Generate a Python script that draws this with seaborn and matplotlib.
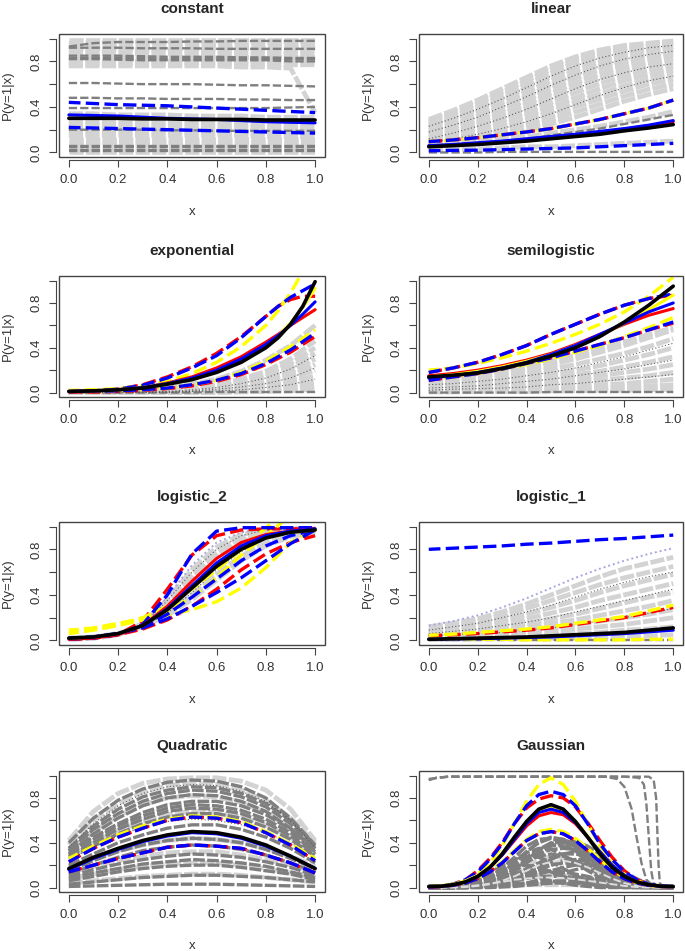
import seaborn as sns
import matplotlib.pyplot as plt
from matplotlib.patches import Rectangle

sns.set_style("white")
plt.rcParams["font.family"] = ["Liberation Sans", "DejaVu Sans"]

X11 = [0.0, 0.1, 0.2, 0.3, 0.4, 0.5, 0.6, 0.7, 0.8, 0.9, 1.0]
X13 = [0.0, 0.1, 0.2, 0.3, 0.4, 0.5, 0.6, 0.7, 0.8, 0.85, 0.9, 0.95, 1.0]
X21 = [0.0, 0.05, 0.1, 0.15, 0.2, 0.25, 0.3, 0.35, 0.4, 0.45, 0.5,
       0.55, 0.6, 0.65, 0.7, 0.75, 0.8, 0.85, 0.9, 0.95, 1.0]

#%% constant
CONST_LIGHT = [
    [0.985, 0.985, 0.985, 0.985, 0.985, 0.985, 0.985, 0.985, 0.985, 0.985, 0.985],
    [0.96, 0.96, 0.97, 0.97, 0.97, 0.97, 0.97, 0.97, 0.97, 0.97, 0.97],
    [0.94, 0.94, 0.94, 0.94, 0.94, 0.94, 0.94, 0.94, 0.94, 0.94, 0.94],
    [0.92, 0.92, 0.92, 0.92, 0.92, 0.92, 0.92, 0.92, 0.92, 0.92, 0.92],
    [0.90, 0.90, 0.90, 0.90, 0.90, 0.89, 0.89, 0.89, 0.89, 0.89, 0.89],
    [0.87, 0.87, 0.87, 0.87, 0.87, 0.87, 0.87, 0.86, 0.86, 0.86, 0.86],
    [0.84, 0.84, 0.84, 0.84, 0.84, 0.84, 0.84, 0.84, 0.84, 0.84, 0.84],
    [0.80, 0.80, 0.80, 0.80, 0.80, 0.80, 0.80, 0.80, 0.80, 0.80, 0.79],
    [0.78, 0.78, 0.78, 0.78, 0.78, 0.78, 0.78, 0.78, 0.77, 0.77, 0.77],
    [0.76, 0.76, 0.76, 0.76, 0.76, 0.76, 0.76, 0.75, 0.75, 0.74, 0.35],
    [0.34, 0.34, 0.33, 0.33, 0.33, 0.32, 0.32, 0.32, 0.31, 0.31, 0.31],
    [0.27, 0.27, 0.27, 0.26, 0.26, 0.26, 0.26, 0.25, 0.25, 0.25, 0.25],
    [0.24, 0.24, 0.24, 0.23, 0.23, 0.23, 0.23, 0.22, 0.22, 0.22, 0.22],
    [0.21, 0.21, 0.21, 0.21, 0.20, 0.20, 0.20, 0.20, 0.20, 0.20, 0.20],
    [0.18, 0.18, 0.18, 0.18, 0.18, 0.17, 0.17, 0.17, 0.17, 0.17, 0.17],
    [0.15, 0.15, 0.15, 0.15, 0.15, 0.15, 0.15, 0.15, 0.14, 0.14, 0.14],
    [0.12, 0.12, 0.12, 0.12, 0.12, 0.12, 0.12, 0.12, 0.12, 0.12, 0.12],
    [0.09, 0.09, 0.09, 0.09, 0.09, 0.09, 0.09, 0.09, 0.09, 0.09, 0.09],
    [0.07, 0.07, 0.07, 0.07, 0.07, 0.07, 0.07, 0.07, 0.07, 0.07, 0.07],
    [0.03, 0.03, 0.03, 0.03, 0.03, 0.03, 0.03, 0.03, 0.03, 0.03, 0.03],
    [0.0, 0.0, 0.0, 0.0, 0.0, 0.0, 0.0, 0.0, 0.0, 0.0, 0.0],
]
CONST_DARK = [
    [0.93, 0.96, 0.97, 0.97, 0.97, 0.975, 0.975, 0.98, 0.98, 0.98, 0.98],
    [0.92, 0.92, 0.92, 0.915, 0.915, 0.915, 0.91, 0.91, 0.91, 0.91, 0.91],
    [0.85, 0.85, 0.85, 0.845, 0.84, 0.84, 0.84, 0.835, 0.835, 0.83, 0.83],
    [0.83, 0.83, 0.83, 0.83, 0.82, 0.82, 0.82, 0.82, 0.82, 0.82, 0.82],
    [0.82, 0.82, 0.815, 0.81, 0.81, 0.81, 0.81, 0.81, 0.81, 0.80, 0.80],
    [0.61, 0.61, 0.605, 0.60, 0.60, 0.60, 0.595, 0.59, 0.59, 0.585, 0.58],
    [0.48, 0.48, 0.475, 0.475, 0.47, 0.47, 0.47, 0.465, 0.465, 0.46, 0.46],
    [0.39, 0.39, 0.39, 0.39, 0.39, 0.39, 0.39, 0.39, 0.39, 0.395, 0.40],
    [0.20, 0.20, 0.20, 0.20, 0.195, 0.195, 0.19, 0.19, 0.19, 0.19, 0.19],
    [0.06, 0.06, 0.06, 0.06, 0.06, 0.06, 0.06, 0.06, 0.06, 0.06, 0.06],
    [0.045, 0.045, 0.045, 0.045, 0.045, 0.045, 0.045, 0.045, 0.045, 0.045, 0.045],
    [0.025, 0.025, 0.025, 0.025, 0.025, 0.025, 0.025, 0.025, 0.025, 0.025, 0.025],
    [0.01, 0.01, 0.01, 0.01, 0.01, 0.01, 0.01, 0.01, 0.01, 0.01, 0.01],
]
CONST_BLUE_DASH = [
    [0.44, 0.43, 0.42, 0.415, 0.41, 0.40, 0.39, 0.38, 0.37, 0.36, 0.35],
    [0.22, 0.215, 0.21, 0.205, 0.20, 0.195, 0.19, 0.185, 0.18, 0.175, 0.17],
]
CONST_BLUE = [0.33, 0.325, 0.32, 0.31, 0.30, 0.295, 0.29, 0.28, 0.27, 0.265, 0.26]
CONST_BLACK = [0.30, 0.30, 0.30, 0.295, 0.295, 0.29, 0.29, 0.29, 0.285, 0.285, 0.285]

#%% linear
LIN_LIGHT = [
    [0.05, 0.08, 0.11, 0.15, 0.19, 0.25, 0.31, 0.38, 0.45, 0.51, 0.56],
    [0.06, 0.09, 0.125, 0.17, 0.22, 0.285, 0.355, 0.425, 0.495, 0.555, 0.60],
    [0.07, 0.10, 0.14, 0.19, 0.25, 0.32, 0.40, 0.47, 0.54, 0.60, 0.64],
    [0.085, 0.12, 0.165, 0.22, 0.285, 0.36, 0.44, 0.515, 0.585, 0.64, 0.68],
    [0.10, 0.14, 0.19, 0.25, 0.32, 0.40, 0.48, 0.56, 0.63, 0.68, 0.72],
    [0.115, 0.16, 0.215, 0.28, 0.355, 0.44, 0.525, 0.605, 0.67, 0.72, 0.755],
    [0.13, 0.18, 0.24, 0.31, 0.39, 0.48, 0.57, 0.65, 0.71, 0.76, 0.79],
    [0.15, 0.20, 0.265, 0.34, 0.425, 0.52, 0.61, 0.69, 0.75, 0.795, 0.825],
    [0.17, 0.22, 0.29, 0.37, 0.46, 0.56, 0.65, 0.73, 0.79, 0.83, 0.86],
    [0.19, 0.245, 0.32, 0.405, 0.495, 0.595, 0.685, 0.76, 0.82, 0.855, 0.885],
    [0.21, 0.27, 0.35, 0.44, 0.53, 0.63, 0.72, 0.79, 0.85, 0.88, 0.91],
    [0.23, 0.295, 0.375, 0.47, 0.565, 0.665, 0.755, 0.82, 0.875, 0.905, 0.93],
    [0.25, 0.32, 0.40, 0.50, 0.60, 0.70, 0.79, 0.85, 0.90, 0.93, 0.95],
    [0.27, 0.345, 0.43, 0.53, 0.63, 0.73, 0.815, 0.875, 0.92, 0.945, 0.965],
    [0.29, 0.37, 0.46, 0.56, 0.66, 0.76, 0.84, 0.90, 0.94, 0.96, 0.98],
    [0.07, 0.08, 0.10, 0.12, 0.14, 0.17, 0.20, 0.23, 0.27, 0.31, 0.36],
    [0.02, 0.03, 0.03, 0.04, 0.05, 0.05, 0.06, 0.07, 0.08, 0.09, 0.10],
]
LIN_DARK = [
    [0.0, 0.0, 0.0, 0.005, 0.005, 0.005, 0.005, 0.005, 0.005, 0.005, 0.005],
    [0.06, 0.07, 0.085, 0.10, 0.12, 0.15, 0.18, 0.21, 0.25, 0.29, 0.33],
]
LIN_DOTTED = [
    [0.12, 0.17, 0.23, 0.30, 0.38, 0.47, 0.56, 0.64, 0.70, 0.75, 0.78],
    [0.18, 0.24, 0.31, 0.40, 0.49, 0.59, 0.68, 0.76, 0.82, 0.86, 0.89],
    [0.09, 0.12, 0.16, 0.21, 0.27, 0.34, 0.42, 0.50, 0.57, 0.63, 0.67],
    [0.23, 0.30, 0.38, 0.47, 0.57, 0.67, 0.76, 0.83, 0.88, 0.92, 0.94],
]
LIN_DASH_HI = [0.095, 0.11, 0.13, 0.155, 0.18, 0.21, 0.25, 0.29, 0.34, 0.39, 0.46]
LIN_DASH_LO = [0.015, 0.018, 0.02, 0.025, 0.03, 0.035, 0.04, 0.05, 0.06, 0.07, 0.08]
LIN_RED = [0.055, 0.065, 0.08, 0.095, 0.115, 0.135, 0.155, 0.18, 0.205, 0.235, 0.27]
LIN_BLUE = [0.06, 0.07, 0.085, 0.10, 0.12, 0.14, 0.16, 0.185, 0.21, 0.24, 0.28]
LIN_BLACK = [0.05, 0.06, 0.07, 0.085, 0.10, 0.12, 0.14, 0.16, 0.19, 0.215, 0.245]

#%% exponential
EXP_LIGHT = [
    [0.01, 0.012, 0.015, 0.025, 0.045, 0.075, 0.12, 0.19, 0.29, 0.42, 0.60],
    [0.0, 0.0, 0.005, 0.01, 0.02, 0.04, 0.07, 0.12, 0.19, 0.30, 0.46],
    [0.0, 0.0, 0.005, 0.01, 0.02, 0.035, 0.06, 0.10, 0.16, 0.26, 0.40],
    [0.0, 0.0, 0.0, 0.01, 0.015, 0.03, 0.05, 0.085, 0.14, 0.22, 0.35],
    [0.0, 0.0, 0.0, 0.005, 0.01, 0.02, 0.04, 0.07, 0.11, 0.18, 0.30],
    [0.0, 0.0, 0.0, 0.005, 0.01, 0.02, 0.035, 0.06, 0.09, 0.15, 0.25],
    [0.0, 0.0, 0.0, 0.0, 0.005, 0.015, 0.025, 0.045, 0.07, 0.12, 0.20],
    [0.0, 0.0, 0.0, 0.0, 0.005, 0.01, 0.02, 0.03, 0.05, 0.09, 0.15],
    [0.0, 0.0, 0.0, 0.0, 0.0, 0.005, 0.01, 0.02, 0.035, 0.06, 0.10],
    [0.0, 0.0, 0.0, 0.0, 0.0, 0.0, 0.005, 0.01, 0.02, 0.035, 0.06],
    [0.0, 0.0, 0.0, 0.0, 0.0, 0.0, 0.0, 0.005, 0.01, 0.015, 0.03],
]
EXP_DOTTED = [
    [0.0, 0.0, 0.0, 0.005, 0.01, 0.025, 0.045, 0.08, 0.13, 0.21, 0.33],
    [0.0, 0.0, 0.0, 0.0, 0.005, 0.015, 0.03, 0.05, 0.08, 0.13, 0.22],
    [0.0, 0.0, 0.0, 0.0, 0.0, 0.01, 0.015, 0.025, 0.045, 0.07, 0.12],
]
EXP_DARK = [[0.0, 0.0, 0.0, 0.0, 0.0, 0.0, 0.005, 0.005, 0.005, 0.005, 0.005]]
# lower dashed curves on X11
EXP_RED_DASH_LO = [[0.005, 0.005, 0.01, 0.02, 0.035, 0.06, 0.10, 0.16, 0.25, 0.36, 0.50]]
EXP_YEL_DASH_LO = [[0.01, 0.012, 0.015, 0.025, 0.04, 0.07, 0.11, 0.18, 0.28, 0.41, 0.56]]
EXP_BLUE_DASH_LO = [[0.01, 0.012, 0.015, 0.025, 0.04, 0.07, 0.11, 0.17, 0.26, 0.38, 0.53]]
# upper curves on X13
EXP_RED_DASH_HI = [[0.01, 0.015, 0.03, 0.07, 0.14, 0.23, 0.35, 0.50, 0.68, 0.77, 0.83, 0.86, 0.86]]
EXP_YEL_DASH_HI = [[0.02, 0.025, 0.035, 0.06, 0.10, 0.17, 0.27, 0.41, 0.60, 0.73, 0.89, 1.08, 1.30]]
EXP_BLUE_DASH_HI = [[0.01, 0.015, 0.03, 0.065, 0.13, 0.22, 0.33, 0.49, 0.68, 0.77, 0.85, 0.91, 0.97]]
EXP_RED = [0.01, 0.015, 0.025, 0.045, 0.085, 0.14, 0.22, 0.32, 0.45, 0.52, 0.60, 0.67, 0.74]
EXP_YEL = [0.01, 0.015, 0.025, 0.045, 0.08, 0.125, 0.19, 0.29, 0.42, 0.51, 0.62, 0.76, 0.93]
EXP_BLUE = [0.01, 0.015, 0.025, 0.045, 0.08, 0.13, 0.20, 0.30, 0.43, 0.51, 0.60, 0.70, 0.81]
EXP_BLACK = [0.01, 0.015, 0.025, 0.04, 0.075, 0.115, 0.18, 0.27, 0.40, 0.49, 0.61, 0.77, 0.99]

#%% semilogistic
SEMI_LIGHT = [
    [0.10, 0.12, 0.14, 0.17, 0.21, 0.25, 0.30, 0.36, 0.42, 0.49, 0.56],
    [0.08, 0.10, 0.12, 0.14, 0.17, 0.21, 0.25, 0.30, 0.35, 0.41, 0.48],
    [0.06, 0.08, 0.09, 0.11, 0.14, 0.17, 0.20, 0.24, 0.29, 0.34, 0.40],
    [0.05, 0.06, 0.07, 0.09, 0.11, 0.13, 0.16, 0.19, 0.23, 0.27, 0.32],
    [0.04, 0.05, 0.06, 0.07, 0.08, 0.10, 0.12, 0.15, 0.18, 0.21, 0.25],
    [0.03, 0.035, 0.04, 0.05, 0.06, 0.07, 0.09, 0.11, 0.13, 0.15, 0.18],
    [0.02, 0.025, 0.03, 0.035, 0.04, 0.05, 0.06, 0.07, 0.08, 0.10, 0.12],
    [0.01, 0.015, 0.02, 0.02, 0.025, 0.03, 0.035, 0.04, 0.05, 0.06, 0.07],
    [0.005, 0.005, 0.01, 0.01, 0.01, 0.015, 0.015, 0.02, 0.02, 0.025, 0.03],
    [0.11, 0.13, 0.16, 0.19, 0.23, 0.28, 0.33, 0.39, 0.45, 0.52, 0.58],
]
SEMI_DOTTED = [
    [0.07, 0.08, 0.10, 0.12, 0.15, 0.18, 0.22, 0.27, 0.32, 0.38, 0.44],
    [0.04, 0.05, 0.06, 0.08, 0.10, 0.12, 0.15, 0.18, 0.21, 0.25, 0.29],
    [0.02, 0.03, 0.035, 0.04, 0.05, 0.07, 0.08, 0.10, 0.12, 0.14, 0.16],
]
SEMI_DARK = [[0.0, 0.0, 0.0, 0.0, 0.0, 0.005, 0.005, 0.005, 0.005, 0.005, 0.005]]
SEMI_RED_DASH = [
    [0.18, 0.22, 0.27, 0.34, 0.42, 0.52, 0.61, 0.70, 0.78, 0.84, 0.87],
    [0.11, 0.14, 0.17, 0.21, 0.26, 0.31, 0.37, 0.43, 0.49, 0.56, 0.62],
]
SEMI_YEL_DASH = [
    [0.20, 0.22, 0.26, 0.31, 0.37, 0.44, 0.52, 0.61, 0.72, 0.86, 1.03],
    [0.12, 0.14, 0.17, 0.21, 0.25, 0.30, 0.36, 0.42, 0.50, 0.58, 0.67],
]
SEMI_BLUE_DASH = [
    [0.18, 0.22, 0.27, 0.34, 0.42, 0.52, 0.61, 0.70, 0.78, 0.84, 0.88],
    [0.11, 0.14, 0.17, 0.21, 0.26, 0.31, 0.37, 0.43, 0.49, 0.56, 0.63],
]
SEMI_RED = [0.15, 0.17, 0.20, 0.24, 0.29, 0.35, 0.43, 0.52, 0.61, 0.69, 0.75]
SEMI_YEL = [0.14, 0.16, 0.19, 0.23, 0.28, 0.34, 0.42, 0.51, 0.62, 0.74, 0.87]
SEMI_BLUE = [0.13, 0.15, 0.18, 0.22, 0.27, 0.34, 0.42, 0.52, 0.62, 0.72, 0.80]
SEMI_BLACK = [0.14, 0.155, 0.175, 0.215, 0.265, 0.325, 0.40, 0.50, 0.63, 0.78, 0.95]

#%% logistic_2
LOG2_LIGHT = [
    [0.01, 0.02, 0.05, 0.15, 0.36, 0.62, 0.82, 0.93, 0.97, 0.98, 0.98],
    [0.01, 0.02, 0.05, 0.14, 0.33, 0.57, 0.77, 0.90, 0.96, 0.98, 0.98],
    [0.01, 0.02, 0.05, 0.14, 0.31, 0.53, 0.73, 0.87, 0.94, 0.97, 0.98],
    [0.02, 0.03, 0.06, 0.12, 0.24, 0.40, 0.58, 0.74, 0.86, 0.93, 0.96],
    [0.02, 0.03, 0.06, 0.12, 0.22, 0.36, 0.53, 0.70, 0.83, 0.91, 0.95],
]
LOG2_DOTTED = [
    [0.01, 0.02, 0.05, 0.14, 0.35, 0.60, 0.80, 0.92, 0.97, 0.98, 0.98],
    [0.02, 0.03, 0.06, 0.12, 0.24, 0.42, 0.62, 0.78, 0.89, 0.95, 0.97],
]
LOG2_LAVENDER = [[0.01, 0.02, 0.05, 0.15, 0.38, 0.66, 0.86, 0.95, 0.98, 0.99, 0.99]]
LOG2_RED_DASH = [
    [0.01, 0.02, 0.05, 0.17, 0.45, 0.75, 0.92, 0.97, 0.98, 0.98, 0.98],
    [0.01, 0.02, 0.05, 0.10, 0.18, 0.30, 0.45, 0.62, 0.76, 0.86, 0.92],
]
LOG2_YEL_DASH = [
    [0.09, 0.11, 0.15, 0.19, 0.22, 0.27, 0.34, 0.46, 0.64, 0.86, 0.97],
    [0.07, 0.10, 0.14, 0.20, 0.30, 0.45, 0.62, 0.80, 0.99, 1.15, 1.25],
    [0.06, 0.09, 0.13, 0.18, 0.26, 0.38, 0.55, 0.75, 0.92, 1.10, 1.20],
]
LOG2_BLUE_DASH = [
    [0.01, 0.02, 0.05, 0.14, 0.40, 0.76, 0.96, 0.99, 0.99, 0.99, 0.99],
    [0.02, 0.03, 0.06, 0.11, 0.19, 0.30, 0.42, 0.55, 0.70, 0.85, 0.97],
    [0.02, 0.03, 0.06, 0.12, 0.23, 0.38, 0.54, 0.70, 0.83, 0.92, 0.97],
]
LOG2_RED = [0.01, 0.02, 0.05, 0.13, 0.30, 0.52, 0.72, 0.86, 0.93, 0.96, 0.98]
LOG2_YEL = [0.02, 0.03, 0.06, 0.13, 0.27, 0.46, 0.66, 0.81, 0.90, 0.95, 0.97]
LOG2_BLUE = [0.02, 0.03, 0.06, 0.13, 0.28, 0.48, 0.68, 0.83, 0.92, 0.96, 0.98]
LOG2_BLACK = [0.02, 0.03, 0.06, 0.13, 0.27, 0.46, 0.65, 0.80, 0.90, 0.95, 0.97]

#%% logistic_1
LOG1_LIGHT = [
    [0.12, 0.15, 0.19, 0.25, 0.32, 0.40, 0.48, 0.56, 0.63, 0.68, 0.73],
    [0.10, 0.13, 0.17, 0.22, 0.28, 0.35, 0.42, 0.49, 0.55, 0.60, 0.65],
    [0.08, 0.11, 0.14, 0.18, 0.23, 0.29, 0.35, 0.42, 0.48, 0.53, 0.58],
    [0.07, 0.09, 0.12, 0.15, 0.19, 0.24, 0.29, 0.35, 0.40, 0.45, 0.50],
    [0.06, 0.07, 0.09, 0.12, 0.15, 0.19, 0.23, 0.28, 0.33, 0.38, 0.42],
    [0.05, 0.06, 0.07, 0.09, 0.12, 0.15, 0.18, 0.22, 0.26, 0.30, 0.35],
    [0.04, 0.05, 0.06, 0.07, 0.09, 0.11, 0.14, 0.17, 0.20, 0.23, 0.27],
    [0.03, 0.035, 0.04, 0.05, 0.06, 0.08, 0.10, 0.12, 0.14, 0.17, 0.20],
    [0.02, 0.025, 0.03, 0.035, 0.04, 0.05, 0.06, 0.07, 0.09, 0.10, 0.12],
    [0.01, 0.01, 0.015, 0.015, 0.02, 0.02, 0.025, 0.03, 0.035, 0.04, 0.05],
]
LOG1_DOTTED = [
    [0.09, 0.12, 0.15, 0.20, 0.25, 0.31, 0.38, 0.45, 0.51, 0.56, 0.60],
    [0.06, 0.08, 0.10, 0.13, 0.16, 0.20, 0.25, 0.30, 0.35, 0.40, 0.45],
    [0.04, 0.05, 0.06, 0.07, 0.09, 0.11, 0.14, 0.17, 0.20, 0.24, 0.28],
]
LOG1_LAVENDER = [[0.13, 0.17, 0.22, 0.29, 0.37, 0.46, 0.55, 0.63, 0.70, 0.76, 0.81]]
LOG1_DARK = [[0.005, 0.005, 0.005, 0.005, 0.005, 0.005, 0.005, 0.005, 0.005, 0.005, 0.005]]
LOG1_RED_DASH = [[0.04, 0.05, 0.06, 0.075, 0.09, 0.11, 0.14, 0.17, 0.20, 0.245, 0.29]]
LOG1_YEL_DASH = [
    [0.045, 0.055, 0.07, 0.085, 0.10, 0.12, 0.15, 0.18, 0.21, 0.26, 0.31],
    [0.01, 0.01, 0.01, 0.01, 0.005, 0.005, 0.005, 0.005, 0.005, 0.01, 0.01],
]
LOG1_BLUE_DASH = [[0.80, 0.81, 0.82, 0.83, 0.845, 0.855, 0.87, 0.885, 0.895, 0.91, 0.925]]
LOG1_BLUE = [0.01, 0.012, 0.015, 0.02, 0.025, 0.03, 0.04, 0.05, 0.06, 0.075, 0.09]
LOG1_BLACK = [0.01, 0.015, 0.02, 0.025, 0.03, 0.04, 0.05, 0.06, 0.07, 0.09, 0.11]

#%% Quadratic
QUAD_LIGHT = [
    [0.42, 0.68, 0.84, 0.93, 0.97, 0.98, 0.98, 0.95, 0.87, 0.70, 0.42],
    [0.38, 0.60, 0.75, 0.85, 0.91, 0.93, 0.92, 0.87, 0.78, 0.62, 0.40],
    [0.33, 0.50, 0.64, 0.74, 0.80, 0.82, 0.81, 0.76, 0.67, 0.53, 0.34],
    [0.27, 0.40, 0.51, 0.59, 0.65, 0.68, 0.67, 0.63, 0.56, 0.45, 0.29],
    [0.18, 0.26, 0.33, 0.38, 0.42, 0.44, 0.43, 0.40, 0.35, 0.28, 0.19],
    [0.13, 0.19, 0.24, 0.28, 0.31, 0.32, 0.32, 0.29, 0.25, 0.20, 0.14],
    [0.08, 0.12, 0.16, 0.19, 0.21, 0.22, 0.22, 0.20, 0.17, 0.13, 0.09],
    [0.04, 0.06, 0.08, 0.10, 0.11, 0.12, 0.12, 0.11, 0.09, 0.07, 0.05],
]
QUAD_DARK = [
    [0.40, 0.62, 0.78, 0.88, 0.94, 0.96, 0.95, 0.90, 0.80, 0.62, 0.38],
    [0.35, 0.55, 0.70, 0.81, 0.87, 0.90, 0.89, 0.84, 0.75, 0.60, 0.38],
    [0.33, 0.52, 0.66, 0.77, 0.84, 0.87, 0.86, 0.81, 0.72, 0.57, 0.35],
    [0.30, 0.48, 0.62, 0.73, 0.80, 0.83, 0.82, 0.77, 0.68, 0.53, 0.33],
    [0.32, 0.45, 0.57, 0.67, 0.74, 0.77, 0.77, 0.73, 0.65, 0.52, 0.36],
    [0.30, 0.43, 0.55, 0.64, 0.71, 0.74, 0.73, 0.69, 0.61, 0.49, 0.32],
    [0.28, 0.40, 0.52, 0.61, 0.68, 0.71, 0.70, 0.66, 0.58, 0.46, 0.30],
    [0.26, 0.37, 0.48, 0.57, 0.63, 0.66, 0.66, 0.62, 0.54, 0.43, 0.28],
    [0.20, 0.30, 0.40, 0.47, 0.53, 0.56, 0.56, 0.52, 0.45, 0.35, 0.22],
    [0.15, 0.24, 0.32, 0.38, 0.42, 0.44, 0.43, 0.40, 0.34, 0.26, 0.17],
    [0.12, 0.20, 0.27, 0.33, 0.36, 0.38, 0.37, 0.34, 0.29, 0.22, 0.14],
    [0.10, 0.16, 0.21, 0.25, 0.28, 0.30, 0.29, 0.27, 0.23, 0.18, 0.11],
    [0.08, 0.13, 0.17, 0.21, 0.23, 0.25, 0.24, 0.22, 0.19, 0.14, 0.09],
    [0.06, 0.10, 0.14, 0.17, 0.19, 0.20, 0.20, 0.18, 0.15, 0.12, 0.07],
    [0.03, 0.05, 0.07, 0.09, 0.10, 0.11, 0.11, 0.10, 0.09, 0.07, 0.05],
    [0.01, 0.015, 0.02, 0.025, 0.03, 0.03, 0.03, 0.025, 0.02, 0.015, 0.01],
]
QUAD_DOTTED = [
    [0.36, 0.57, 0.73, 0.84, 0.90, 0.92, 0.91, 0.86, 0.77, 0.60, 0.36],
    [0.25, 0.36, 0.46, 0.54, 0.59, 0.61, 0.60, 0.56, 0.49, 0.40, 0.27],
]
QUAD_RED_DASH = [
    [0.23, 0.35, 0.45, 0.53, 0.60, 0.63, 0.62, 0.58, 0.49, 0.38, 0.24],
    [0.14, 0.20, 0.26, 0.31, 0.36, 0.38, 0.37, 0.35, 0.29, 0.22, 0.13],
]
QUAD_YEL_DASH = [[0.26, 0.37, 0.47, 0.55, 0.61, 0.64, 0.63, 0.59, 0.50, 0.39, 0.26]]
QUAD_BLUE_DASH = [
    [0.23, 0.35, 0.45, 0.53, 0.60, 0.63, 0.62, 0.58, 0.49, 0.38, 0.24],
    [0.14, 0.20, 0.26, 0.31, 0.36, 0.38, 0.37, 0.35, 0.29, 0.22, 0.13],
]
QUAD_BLUE = [0.16, 0.26, 0.34, 0.41, 0.46, 0.49, 0.48, 0.44, 0.37, 0.28, 0.17]
QUAD_BLACK = [0.17, 0.27, 0.35, 0.42, 0.47, 0.50, 0.49, 0.45, 0.38, 0.28, 0.17]

#%% Gaussian
GAUSS_LIGHT = [
    [0, 0, 0.005, 0.01, 0.02, 0.04, 0.08, 0.13, 0.19, 0.25, 0.28, 0.27, 0.23, 0.17, 0.11, 0.06, 0.03, 0.015, 0.005, 0, 0],
    [0, 0, 0, 0.005, 0.01, 0.02, 0.04, 0.06, 0.09, 0.11, 0.12, 0.11, 0.09, 0.06, 0.04, 0.02, 0.01, 0.005, 0, 0, 0],
    [0.01, 0.01, 0.015, 0.015, 0.02, 0.02, 0.02, 0.025, 0.025, 0.025, 0.025, 0.025, 0.025, 0.025, 0.02, 0.02, 0.02, 0.015, 0.015, 0.01, 0.01],
]
GAUSS_DARK = [
    [0, 0, 0, 0.005, 0.02, 0.06, 0.13, 0.22, 0.32, 0.40, 0.44, 0.43, 0.39, 0.33, 0.26, 0.18, 0.10, 0.04, 0.01, 0, 0],
    [0, 0, 0, 0.005, 0.015, 0.04, 0.09, 0.16, 0.25, 0.33, 0.39, 0.42, 0.41, 0.37, 0.30, 0.22, 0.13, 0.06, 0.02, 0.005, 0],
    [0, 0, 0.005, 0.01, 0.02, 0.05, 0.10, 0.17, 0.24, 0.30, 0.34, 0.35, 0.34, 0.30, 0.25, 0.19, 0.12, 0.06, 0.02, 0.005, 0],
    [0, 0, 0, 0.005, 0.01, 0.03, 0.06, 0.11, 0.17, 0.22, 0.27, 0.30, 0.30, 0.28, 0.24, 0.19, 0.13, 0.07, 0.03, 0.005, 0],
    [0, 0, 0, 0.005, 0.01, 0.03, 0.05, 0.09, 0.13, 0.17, 0.21, 0.24, 0.25, 0.25, 0.23, 0.19, 0.14, 0.08, 0.03, 0.01, 0],
    [0, 0, 0, 0, 0.005, 0.015, 0.03, 0.06, 0.09, 0.12, 0.15, 0.18, 0.20, 0.21, 0.20, 0.17, 0.12, 0.07, 0.03, 0.005, 0],
    [0, 0, 0.005, 0.01, 0.03, 0.07, 0.13, 0.22, 0.32, 0.41, 0.45, 0.43, 0.36, 0.27, 0.18, 0.10, 0.05, 0.02, 0.01, 0.005, 0],
    [0, 0, 0.005, 0.015, 0.04, 0.09, 0.17, 0.27, 0.37, 0.43, 0.44, 0.40, 0.32, 0.23, 0.15, 0.08, 0.04, 0.015, 0.005, 0, 0],
    [0, 0, 0, 0.005, 0.015, 0.04, 0.08, 0.14, 0.22, 0.30, 0.37, 0.40, 0.38, 0.31, 0.22, 0.14, 0.07, 0.03, 0.01, 0.005, 0],
    [0, 0.005, 0.01, 0.02, 0.04, 0.07, 0.12, 0.19, 0.27, 0.34, 0.38, 0.37, 0.33, 0.27, 0.20, 0.13, 0.08, 0.04, 0.02, 0.01, 0],
    [0, 0, 0.01, 0.02, 0.05, 0.10, 0.17, 0.25, 0.31, 0.35, 0.34, 0.29, 0.22, 0.15, 0.09, 0.05, 0.02, 0.01, 0.005, 0, 0],
    [0, 0, 0, 0.005, 0.01, 0.02, 0.04, 0.08, 0.13, 0.19, 0.25, 0.30, 0.32, 0.30, 0.25, 0.18, 0.11, 0.05, 0.02, 0.005, 0],
    [0, 0, 0.005, 0.015, 0.03, 0.06, 0.11, 0.17, 0.23, 0.28, 0.30, 0.28, 0.24, 0.18, 0.12, 0.07, 0.04, 0.02, 0.01, 0, 0],
    [0, 0.005, 0.01, 0.03, 0.07, 0.13, 0.20, 0.25, 0.28, 0.27, 0.23, 0.17, 0.11, 0.06, 0.03, 0.01, 0.005, 0, 0, 0, 0],
    [0, 0, 0, 0, 0.005, 0.015, 0.03, 0.06, 0.10, 0.15, 0.20, 0.24, 0.25, 0.23, 0.18, 0.12, 0.07, 0.03, 0.01, 0.005, 0],
    [0, 0, 0, 0.005, 0.01, 0.03, 0.05, 0.09, 0.13, 0.17, 0.20, 0.22, 0.21, 0.18, 0.14, 0.09, 0.05, 0.02, 0.01, 0, 0],
    [0, 0.005, 0.01, 0.03, 0.06, 0.10, 0.15, 0.19, 0.20, 0.18, 0.14, 0.10, 0.06, 0.03, 0.015, 0.005, 0, 0, 0, 0, 0],
    [0, 0, 0, 0, 0, 0.005, 0.01, 0.02, 0.04, 0.07, 0.10, 0.13, 0.16, 0.18, 0.17, 0.14, 0.09, 0.05, 0.02, 0.005, 0],
    [0, 0.005, 0.01, 0.02, 0.03, 0.05, 0.07, 0.10, 0.12, 0.14, 0.15, 0.14, 0.12, 0.10, 0.07, 0.05, 0.03, 0.02, 0.01, 0.005, 0],
    [0, 0.005, 0.015, 0.03, 0.06, 0.09, 0.11, 0.12, 0.11, 0.09, 0.06, 0.04, 0.02, 0.01, 0, 0, 0, 0, 0, 0, 0],
    [0, 0, 0, 0.005, 0.01, 0.02, 0.04, 0.06, 0.08, 0.10, 0.10, 0.10, 0.09, 0.07, 0.05, 0.03, 0.02, 0.01, 0.005, 0, 0],
    [0, 0, 0, 0, 0, 0, 0.005, 0.01, 0.02, 0.03, 0.04, 0.055, 0.065, 0.075, 0.08, 0.075, 0.06, 0.04, 0.02, 0.005, 0],
    [0, 0, 0, 0, 0.005, 0.01, 0.02, 0.03, 0.04, 0.05, 0.06, 0.06, 0.05, 0.04, 0.03, 0.02, 0.01, 0.005, 0, 0, 0],
    [0, 0.005, 0.01, 0.015, 0.02, 0.025, 0.03, 0.035, 0.04, 0.04, 0.04, 0.04, 0.04, 0.035, 0.03, 0.025, 0.02, 0.015, 0.01, 0.005, 0],
    [0, 0, 0, 0, 0.01, 0.03, 0.07, 0.14, 0.24, 0.34, 0.40, 0.41, 0.37, 0.29, 0.20, 0.12, 0.06, 0.02, 0.01, 0, 0],
]
GAUSS_LIGHT_TOP = [
    [0, 0, 0, 0.005, 0.015, 0.03, 0.06, 0.10, 0.15, 0.20, 0.23, 0.24, 0.22, 0.18, 0.13, 0.08, 0.04, 0.015, 0.005, 0, 0],
    [0, 0, 0.005, 0.01, 0.02, 0.035, 0.05, 0.07, 0.08, 0.09, 0.09, 0.085, 0.075, 0.06, 0.045, 0.03, 0.015, 0.005, 0, 0, 0],
]
STEP1_X = [0.0, 0.03, 0.08, 0.2, 0.4, 0.6, 0.72, 0.77, 0.80, 0.83, 0.85, 0.87, 0.89, 0.92, 0.96, 1.0]
STEP1_Y = [0.96, 0.98, 0.99, 0.99, 0.99, 0.99, 0.99, 0.97, 0.90, 0.70, 0.45, 0.22, 0.07, 0.01, 0.005, 0.005]
STEP2_X = [0.0, 0.03, 0.08, 0.2, 0.4, 0.6, 0.8, 0.86, 0.88, 0.89, 0.90, 0.91, 0.92, 0.95, 1.0]
STEP2_Y = [0.96, 0.98, 0.99, 0.99, 0.99, 0.99, 0.99, 0.98, 0.92, 0.75, 0.45, 0.15, 0.03, 0.005, 0.005]
STEP3_X = [0.0, 0.08, 0.3, 0.6, 0.9, 0.92, 0.93, 0.935, 0.94, 0.945, 0.96, 1.0]
STEP3_Y = [0.97, 0.99, 0.99, 0.99, 0.99, 0.96, 0.80, 0.50, 0.20, 0.04, 0.005, 0.005]
GAUSS_RED_DASH = [
    [0.005, 0.01, 0.03, 0.07, 0.15, 0.26, 0.40, 0.57, 0.71, 0.79, 0.82, 0.80, 0.72, 0.58, 0.42, 0.27, 0.15, 0.07, 0.03, 0.01, 0.005],
    [0.005, 0.01, 0.02, 0.04, 0.08, 0.14, 0.22, 0.32, 0.42, 0.48, 0.50, 0.48, 0.42, 0.33, 0.23, 0.14, 0.08, 0.04, 0.02, 0.01, 0.005],
]
GAUSS_YEL_DASH = [
    [0.01, 0.015, 0.03, 0.06, 0.12, 0.22, 0.37, 0.57, 0.77, 0.92, 0.98, 0.92, 0.77, 0.57, 0.37, 0.22, 0.12, 0.06, 0.03, 0.015, 0.01],
    [0.005, 0.01, 0.02, 0.045, 0.085, 0.15, 0.23, 0.33, 0.43, 0.50, 0.52, 0.50, 0.44, 0.35, 0.25, 0.16, 0.09, 0.045, 0.02, 0.01, 0.005],
]
GAUSS_BLUE_DASH = [
    [0.01, 0.015, 0.03, 0.07, 0.14, 0.25, 0.39, 0.57, 0.73, 0.83, 0.86, 0.83, 0.73, 0.57, 0.39, 0.25, 0.14, 0.07, 0.03, 0.015, 0.01],
    [0.005, 0.01, 0.02, 0.04, 0.08, 0.14, 0.22, 0.32, 0.42, 0.48, 0.50, 0.48, 0.42, 0.33, 0.23, 0.14, 0.08, 0.04, 0.02, 0.01, 0.005],
]
GAUSS_RED = [0.005, 0.01, 0.025, 0.05, 0.10, 0.18, 0.29, 0.42, 0.55, 0.64, 0.67, 0.65, 0.57, 0.45, 0.32, 0.20, 0.11, 0.05, 0.025, 0.01, 0.005]
GAUSS_YEL = [0.01, 0.015, 0.03, 0.06, 0.11, 0.19, 0.30, 0.44, 0.58, 0.68, 0.72, 0.69, 0.59, 0.46, 0.32, 0.20, 0.11, 0.05, 0.025, 0.01, 0.005]
GAUSS_BLUE = [0.005, 0.01, 0.025, 0.05, 0.10, 0.18, 0.29, 0.43, 0.57, 0.67, 0.70, 0.67, 0.58, 0.45, 0.32, 0.20, 0.11, 0.05, 0.025, 0.01, 0.005]
GAUSS_BLACK = [0.01, 0.012, 0.025, 0.05, 0.10, 0.18, 0.30, 0.45, 0.59, 0.70, 0.74, 0.70, 0.59, 0.45, 0.30, 0.18, 0.10, 0.05, 0.025, 0.012, 0.01]

#%% styles
LIGHT = dict(color="#d3d3d3", linewidth=3.4, linestyle=(0, (3.0, 0.5)))
LIGHT_THIN = dict(color="#dcdcdc", linewidth=1.4, linestyle=(0, (4, 1.5)))
DARK = dict(color="#7f7f7f", linewidth=1.7, linestyle=(0, (3.5, 1.3)))
DARK_THICK = dict(color="#7f7f7f", linewidth=2.4, linestyle=(0, (3.5, 0.7)))
DOTTED = dict(color="#5c5c5c", linewidth=0.8, linestyle=(0, (1, 2)))
LAVENDER = dict(color="#a8a8e0", linewidth=1.4, linestyle=(0, (1, 1.5)))
RED_D = dict(color="red", linewidth=2.4, linestyle=(0, (4, 1.6)))
YEL_D = dict(color="yellow", linewidth=2.4, linestyle=(1, (4, 1.6)))
BLUE_D = dict(color="blue", linewidth=2.4, linestyle=(0.5, (4, 1.6)))
RED_S = dict(color="red", linewidth=2.2, linestyle="-")
YEL_S = dict(color="yellow", linewidth=2.2, linestyle="-")
BLUE_S = dict(color="blue", linewidth=2.2, linestyle="-")
BLACK = dict(color="black", linewidth=2.6, linestyle="-")


def draw(ax, x, curves, style):
    for y in curves:
        sns.lineplot(x=x, y=y, ax=ax, estimator=None, sort=False, **style)


def style_axes(ax, title):
    ax.set_xlim(-0.04, 1.04)
    ax.set_ylim(-0.04, 1.04)
    for s in ax.spines.values():
        s.set_visible(False)
    for side in ("left", "bottom"):
        sp = ax.spines[side]
        sp.set_visible(True)
        sp.set_position(("outward", 2))
        sp.set_bounds(0, 1)
        sp.set_color("#444444")
        sp.set_linewidth(0.8)
    ax.add_patch(Rectangle((0, 0), 1, 1, transform=ax.transAxes, fill=False,
                           lw=1.0, ec="#444444", clip_on=False, zorder=10))
    ax.set_xticks([0, 0.2, 0.4, 0.6, 0.8, 1.0])
    ax.set_xticklabels(["0.0", "0.2", "0.4", "0.6", "0.8", "1.0"])
    ax.set_yticks([0, 0.2, 0.4, 0.6, 0.8, 1.0])
    ax.set_yticklabels(["0.0", "", "0.4", "", "0.8", ""], rotation=90, va="center")
    ax.tick_params(direction="out", length=5, width=0.8, color="#444444",
                   labelsize=9.5, labelcolor="#333333", pad=5, left=True, bottom=True)
    ax.set_title(title, fontsize=11, fontweight="bold", pad=15)
    ax.set_xlabel("x", fontsize=9.5, color="#333333")
    ax.set_ylabel("P(y=1|x)", fontsize=9.5, color="#333333")
    ax.xaxis.set_label_coords(0.5, -0.40)
    ax.yaxis.set_label_coords(-0.17, 0.5)


PANELS = [
    ("constant", [(X11, CONST_LIGHT, LIGHT), (X11, CONST_DARK, DARK),
                  (X11, CONST_BLUE_DASH, BLUE_D), (X11, [CONST_BLUE], BLUE_S),
                  (X11, [CONST_BLACK], BLACK)]),
    ("linear", [(X11, LIN_LIGHT, LIGHT), (X11, LIN_DARK, DARK), (X11, LIN_DOTTED, DOTTED),
                (X11, [LIN_DASH_HI], RED_D), (X11, [LIN_DASH_HI], YEL_D),
                (X11, [LIN_DASH_HI, LIN_DASH_LO], BLUE_D),
                (X11, [LIN_RED], RED_S), (X11, [LIN_BLUE], BLUE_S), (X11, [LIN_BLACK], BLACK)]),
    ("exponential", [(X11, EXP_LIGHT, LIGHT), (X11, EXP_DARK, DARK), (X11, EXP_DOTTED, DOTTED),
                     (X11, EXP_RED_DASH_LO, RED_D), (X11, EXP_YEL_DASH_LO, YEL_D),
                     (X11, EXP_BLUE_DASH_LO, BLUE_D),
                     (X13, EXP_RED_DASH_HI, RED_D), (X13, EXP_YEL_DASH_HI, YEL_D),
                     (X13, EXP_BLUE_DASH_HI, BLUE_D), (X13, [EXP_RED], RED_S),
                     (X13, [EXP_YEL], YEL_S), (X13, [EXP_BLUE], BLUE_S), (X13, [EXP_BLACK], BLACK)]),
    ("semilogistic", [(X11, SEMI_LIGHT, LIGHT), (X11, SEMI_DARK, DARK), (X11, SEMI_DOTTED, DOTTED),
                      (X11, SEMI_RED_DASH, RED_D), (X11, SEMI_YEL_DASH, YEL_D),
                      (X11, SEMI_BLUE_DASH, BLUE_D), (X11, [SEMI_RED], RED_S),
                      (X11, [SEMI_YEL], YEL_S), (X11, [SEMI_BLUE], BLUE_S),
                      (X11, [SEMI_BLACK], BLACK)]),
    ("logistic_2", [(X11, LOG2_LIGHT, LIGHT), (X11, LOG2_DOTTED, DOTTED),
                    (X11, LOG2_LAVENDER, LAVENDER), (X11, LOG2_RED_DASH, RED_D),
                    (X11, LOG2_YEL_DASH, YEL_D), (X11, LOG2_BLUE_DASH, BLUE_D),
                    (X11, [LOG2_RED], RED_S), (X11, [LOG2_YEL], YEL_S),
                    (X11, [LOG2_BLUE], BLUE_S), (X11, [LOG2_BLACK], BLACK)]),
    ("logistic_1", [(X11, LOG1_LIGHT, LIGHT), (X11, LOG1_DARK, DARK), (X11, LOG1_DOTTED, DOTTED),
                    (X11, LOG1_LAVENDER, LAVENDER), (X11, LOG1_RED_DASH, RED_D),
                    (X11, LOG1_YEL_DASH, YEL_D), (X11, LOG1_BLUE_DASH, BLUE_D),
                    (X11, [LOG1_BLUE], BLUE_S), (X11, [LOG1_BLACK], BLACK)]),
    ("Quadratic", [(X11, QUAD_LIGHT, LIGHT), (X11, QUAD_DARK, DARK_THICK), (X11, QUAD_DOTTED, DOTTED),
                   (X11, QUAD_RED_DASH, RED_D), (X11, QUAD_YEL_DASH, YEL_D),
                   (X11, QUAD_BLUE_DASH, BLUE_D), (X11, [QUAD_BLUE], BLUE_S),
                   (X11, [QUAD_BLACK], BLACK)]),
    ("Gaussian", [(X21, GAUSS_LIGHT, LIGHT), (X21, GAUSS_DARK, DARK_THICK),
                  (X21, GAUSS_LIGHT_TOP, LIGHT_THIN),
                  (STEP1_X, [STEP1_Y], DARK), (STEP2_X, [STEP2_Y], DARK), (STEP3_X, [STEP3_Y], DARK),
                  (X21, GAUSS_RED_DASH, RED_D), (X21, GAUSS_YEL_DASH, YEL_D),
                  (X21, GAUSS_BLUE_DASH, BLUE_D), (X21, [GAUSS_RED], RED_S),
                  (X21, [GAUSS_YEL], YEL_S), (X21, [GAUSS_BLUE], BLUE_S),
                  (X21, [GAUSS_BLACK], BLACK)]),
]

# box positions in figure fractions (left, bottom, width, height)
COLS = [(0.0861, 0.3883), (0.6117, 0.3854)]
ROWS = [(0.8349, 0.1293), (0.5825, 0.1272), (0.3218, 0.1293), (0.0620, 0.1272)]

fig = plt.figure(figsize=(6.85, 9.51), dpi=100)
for i, (title, layers) in enumerate(PANELS):
    left, width = COLS[i % 2]
    bottom, height = ROWS[i // 2]
    ax = fig.add_axes([left, bottom, width, height])
    for x, curves, style in layers:
        draw(ax, x, curves, style)
    style_axes(ax, title)

plt.savefig("out.png", dpi=100)
